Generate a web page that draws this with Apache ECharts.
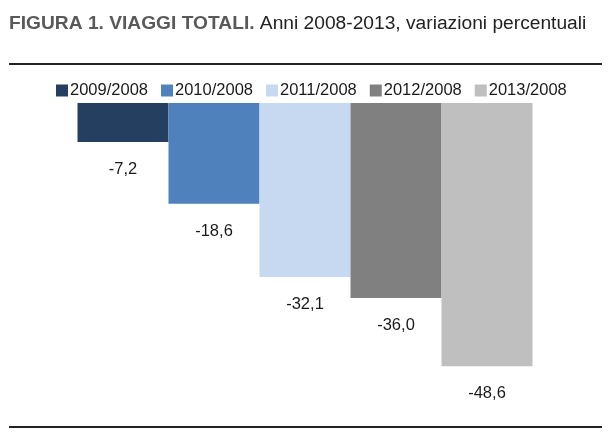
<!DOCTYPE html>
<html>
<head>
<meta charset="utf-8">
<script src="https://cdn.jsdelivr.net/npm/echarts@6/dist/echarts.min.js"></script>
<style>
  html, body { margin: 0; padding: 0; background: #fff; }
  #chart { width: 610px; height: 439px; }
</style>
</head>
<body>
<div id="chart"></div>
<script>
var periodi = ['2009/2008', '2010/2008', '2011/2008', '2012/2008', '2013/2008'];
var variazioni = [-7.2, -18.6, -32.1, -36.0, -48.6];
var colori = ['#243f60', '#4f81bd', '#c6d9f1', '#808080', '#bfbfbf'];

var FONT = "'Liberation Sans', Arial, sans-serif";

var myChart = echarts.init(document.getElementById('chart'));

var series = periodi.map(function (p, i) {
  return {
    name: p,
    type: 'bar',
    barWidth: 91,
    barGap: '0%',
    itemStyle: { color: colori[i] },
    label: {
      show: true,
      position: 'bottom',
      distance: 19,
      color: '#1a1a1a',
      fontFamily: FONT,
      fontSize: 16.5,
      formatter: function (d) {
        return d.value.toFixed(1).replace('.', ',');
      }
    },
    data: [variazioni[i]]
  };
});

option = {
  backgroundColor: '#fff',
  animation: false,
  title: {
    left: 4,
    top: 9,
    text: '{b|FIGURA 1. VIAGGI TOTALI.}{n| Anni 2008-2013, variazioni percentuali}',
    textStyle: {
      rich: {
        b: { fontFamily: FONT, fontSize: 19.2, fontWeight: 'bold', color: '#595959' },
        n: { fontFamily: FONT, fontSize: 19.2, fontWeight: 'normal', color: '#222' }
      }
    }
  },
  legend: {
    top: 77,
    left: 51,
    itemWidth: 12,
    itemHeight: 12,
    itemGap: 13,
    icon: 'rect',
    textStyle: {
      fontFamily: FONT,
      fontSize: 16.5,
      color: '#1a1a1a',
      padding: [0, 0, 0, -3]
    },
    data: periodi
  },
  grid: { left: 0, right: 0, top: 103, bottom: 11 },
  xAxis: {
    type: 'category',
    data: [''],
    show: false
  },
  yAxis: {
    type: 'value',
    min: -60,
    max: 0,
    show: false
  },
  graphic: [
    { type: 'line', shape: { x1: 9, y1: 64, x2: 602, y2: 64 }, style: { stroke: '#222', lineWidth: 2 } },
    { type: 'line', shape: { x1: 9, y1: 427, x2: 602, y2: 427 }, style: { stroke: '#222', lineWidth: 2 } }
  ],
  series: series
};

myChart.setOption(option);
</script>
</body>
</html>
